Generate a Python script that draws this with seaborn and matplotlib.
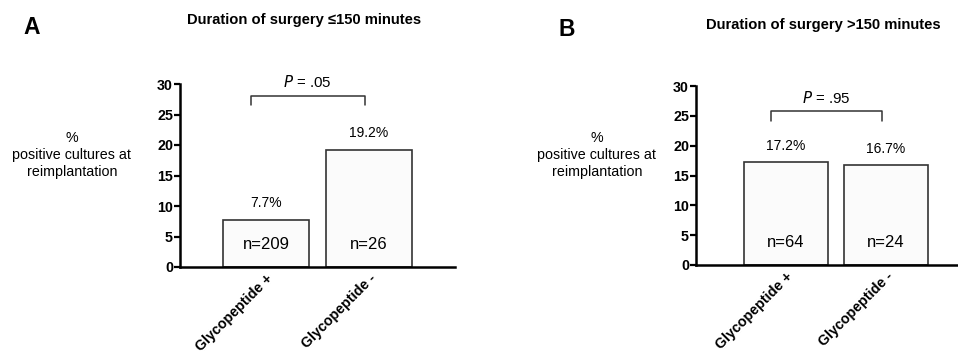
import matplotlib
matplotlib.use("Agg")
import matplotlib.pyplot as plt
import seaborn as sns

# data
groups = ["Glycopeptide +", "Glycopeptide -"]
pct_short = [7.7, 19.2]
n_short = [209, 26]
pct_long = [17.2, 16.7]
n_long = [64, 24]
p_short = ".05"
p_long = ".95"
yticks = [0, 5, 10, 15, 20, 25, 30]

sns.set_style("white")
plt.rcParams['font.family'] = ['Liberation Sans', 'DejaVu Sans']
plt.rcParams['text.color'] = 'black'
plt.rcParams['axes.labelcolor'] = 'black'
plt.rcParams['xtick.color'] = 'black'
plt.rcParams['ytick.color'] = 'black'


def draw_panel(ax, pct, ns, p_text, bracket_y, p_y, xlim, label_xy):
    sns.barplot(x=groups, y=pct, ax=ax, color="#fbfbfb", saturation=1,
                edgecolor="#333333", linewidth=1.2, width=0.835)
    ax.set_xlim(*xlim)
    ax.set_ylim(0, 30)
    ax.set_yticks(yticks)
    ax.set_yticklabels([str(t) for t in yticks], fontsize=10.3, fontweight='bold')
    ax.tick_params(axis='y', direction='out', length=4, width=1.6, pad=1, left=True)
    ax.tick_params(axis='x', length=0, pad=3)
    for lab in ax.get_xticklabels():
        lab.set_rotation(45)
        lab.set_ha('right')
        lab.set_rotation_mode('anchor')
        lab.set_fontsize(10.3)
        lab.set_fontweight('bold')
    sns.despine(ax=ax)
    for side in ('left', 'bottom'):
        ax.spines[side].set_linewidth(1.8)
        ax.spines[side].set_color('black')

    for i, (v, n) in enumerate(zip(pct, ns)):
        ax.text(i, v + 2.8, f"{v}%", ha='center', va='center', fontsize=10)
        ax.text(i, 3.7, f"n={n}", ha='center', va='center', fontsize=12)

    lo, hi = bracket_y
    ax.plot([-0.15, -0.15, 0.96, 0.96], [lo, hi, hi, lo], color='#333333',
            lw=1.1, clip_on=False)
    ax.text(0.4, p_y, r"$\it{P}$ = " + p_text, ha='center', va='center', fontsize=10.8)

    ax.set_ylabel("%\npositive cultures at\nreimplantation", rotation=0,
                  fontsize=10.3, ha='center', va='center', linespacing=1.3)
    ax.yaxis.set_label_coords(*label_xy)
    ax.set_xlabel("")


fig = plt.figure(figsize=(9.58, 3.56), dpi=100)
ax_a = fig.add_axes([180 / 958, 1 - 267 / 356, 275 / 958, 183 / 356])
ax_b = fig.add_axes([696 / 958, 1 - 265 / 356, 280 / 958, 179 / 356])

draw_panel(ax_a, pct_short, n_short, p_short, (26.5, 28.0), 30.3,
           (-0.835, 1.835), (-0.393, 0.612))
draw_panel(ax_b, pct_long, n_long, p_long, (24.1, 25.8), 28.0,
           (-0.9, 1.9), (-0.354, 0.615))

fig.text(304 / 958, 1 - 20 / 356, "Duration of surgery \u2264150 minutes",
         ha='center', va='center', fontsize=10.6, fontweight='bold')
fig.text(823 / 958, 1 - 25 / 356, "Duration of surgery >150 minutes",
         ha='center', va='center', fontsize=10.6, fontweight='bold')
fig.text(32 / 958, 1 - 28 / 356, "A", ha='center', va='center',
         fontsize=16.5, fontweight='bold')
fig.text(567 / 958, 1 - 29 / 356, "B", ha='center', va='center',
         fontsize=16.5, fontweight='bold')

fig.savefig("out.png", dpi=100, facecolor='white')
